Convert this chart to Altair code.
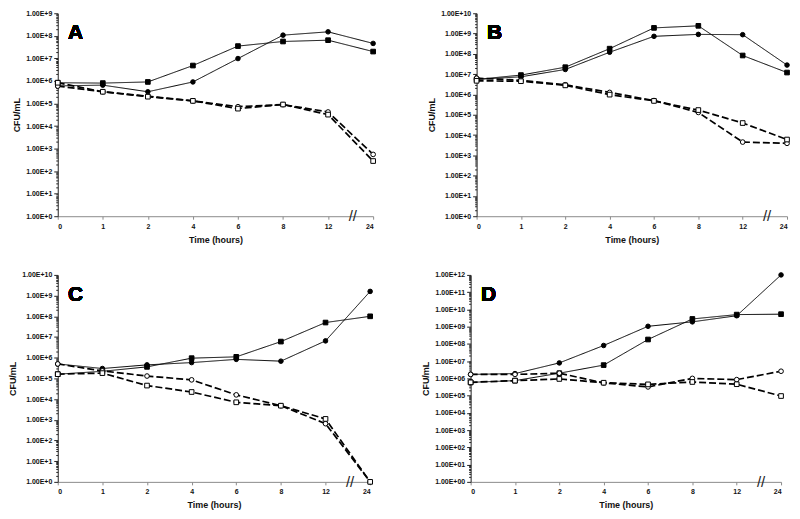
import altair as alt
import pandas as pd

hours = ["0", "1", "2", "4", "6", "8", "12", "24"]
series_names = ["filled_square", "filled_circle", "open_circle", "open_square"]
panel_letters = ["A", "B", "C", "D"]
y_max_exp = [9, 10, 10, 12]
two_digit_exponent = [False, False, False, True]

# Panel A
a_filled_square = [8.3e5, 8.0e5, 9.0e5, 4.8e6, 3.5e7, 5.6e7, 6.4e7, 2.0e7]
a_filled_circle = [6.0e5, 6.5e5, 3.3e5, 9.0e5, 9.8e6, 1.07e8, 1.5e8, 4.6e7]
a_open_circle = [5.9e5, 3.3e5, 2.1e5, 1.3e5, 7.2e4, 8.9e4, 4.2e4, 5.5e2]
a_open_square = [8.3e5, 3.3e5, 2.0e5, 1.3e5, 5.9e4, 9.0e4, 3.2e4, 2.8e2]

# Panel B
b_filled_square = [5.5e6, 9.0e6, 2.2e7, 1.8e8, 1.9e9, 2.4e9, 8.3e7, 1.2e7]
b_filled_circle = [5.5e6, 7.4e6, 1.7e7, 1.2e8, 7.3e8, 9.1e8, 8.8e8, 2.8e7]
b_open_circle = [6.3e6, 5.0e6, 3.0e6, 1.26e6, 5.0e5, 1.3e5, 4.5e3, 3.9e3]
b_open_square = [4.7e6, 4.5e6, 2.8e6, 9.8e5, 4.8e5, 1.7e5, 3.9e4, 6.0e3]

# Panel C
c_filled_square = [1.6e5, 2.2e5, 3.6e5, 9.5e5, 1.1e6, 6.0e6, 5.0e7, 1.0e8]
c_filled_circle = [5.0e5, 3.0e5, 4.5e5, 5.8e5, 8.3e5, 6.8e5, 6.5e6, 1.6e9]
c_open_circle = [5.0e5, 2.3e5, 1.3e5, 8.5e4, 1.6e4, 4.8e3, 6.5e2, 1.0]
c_open_square = [1.6e5, 1.8e5, 4.5e4, 2.2e4, 7.0e3, 4.8e3, 1.1e3, 1.0]

# Panel D
d_filled_square = [5.9e5, 7.4e5, 2.0e6, 5.9e6, 1.8e8, 2.8e9, 5.0e9, 5.3e9]
d_filled_circle = [1.7e6, 1.9e6, 7.9e6, 8.1e7, 1.05e9, 1.9e9, 4.3e9, 1.0e12]
d_open_circle = [1.7e6, 1.7e6, 2.0e6, 5.5e5, 3.2e5, 1.0e6, 8.5e5, 2.6e6]
d_open_square = [5.9e5, 7.4e5, 9.3e5, 5.6e5, 4.5e5, 6.2e5, 4.6e5, 9.5e4]

panel_series = [
    [a_filled_square, a_filled_circle, a_open_circle, a_open_square],
    [b_filled_square, b_filled_circle, b_open_circle, b_open_square],
    [c_filled_square, c_filled_circle, c_open_circle, c_open_square],
    [d_filled_square, d_filled_circle, d_open_circle, d_open_square],
]
panel_sizes = [(317, 204), (312, 204), (314, 208), (312, 208)]

FONT = "Liberation Sans"
hours_csv = ",".join(hours)

styles = {
    "filled_square": dict(dash=[1, 0], sw=1.0, shape="square", filled=True, size=22),
    "filled_circle": dict(dash=[1, 0], sw=1.0, shape="circle", filled=True, size=21),
    "open_circle": dict(dash=[7, 3], sw=1.7, shape="circle", filled=False, size=22),
    "open_square": dict(dash=[7, 3], sw=1.7, shape="square", filled=False, size=22),
}


def make_panel(i):
    letter = panel_letters[i]
    top = y_max_exp[i]
    w, h = panel_sizes[i]
    rows = []
    for name, vals in zip(series_names, panel_series[i]):
        for k, (hr, v) in enumerate(zip(hours, vals)):
            rows.append({"idx": k, "hour": hr, "series": name, "value": v})
    df = pd.DataFrame(rows)

    yvals = [m * 10 ** k for k in range(0, top) for m in range(1, 10)] + [10 ** top]
    exp_expr = "round(log(datum.value)/LN10)"
    major_test = f"abs(log(datum.value)/LN10 - {exp_expr}) < 0.001"
    if two_digit_exponent[i]:
        exp_txt = f"({exp_expr} < 10 ? '0' : '') + {exp_expr}"
    else:
        exp_txt = exp_expr
    x_enc = alt.X(
        "idx:Q",
        scale=alt.Scale(domain=[0, len(hours) - 1], nice=False, zero=False),
        axis=alt.Axis(
            values=list(range(len(hours))),
            labelExpr=f"split('{hours_csv}', ',')[datum.value]",
            title="Time (hours)",
            grid=False,
            domainColor="#8a8a8a",
            tickColor="#8a8a8a",
            tickSize=3,
            labelPadding=3,
            titlePadding=6,
        ),
    )
    y_enc = alt.Y(
        "value:Q",
        scale=alt.Scale(type="log", domain=[1, 10 ** top], nice=False),
        axis=alt.Axis(
            values=yvals,
            labelExpr=f"({major_test}) ? '1.00E+' + {exp_txt} : ''",
            labelOverlap=False,
            title="CFU/mL",
            grid=False,
            domainColor="#222222",
            tickColor="#222222",
            tickSize={"condition": {"test": major_test, "value": 4}, "value": 2},
            labelPadding=2,
            titlePadding=4,
        ),
    )

    layers = []
    for name in series_names:
        st = styles[name]
        layers.append(
            alt.Chart(df)
            .transform_filter(alt.datum.series == name)
            .mark_line(color="black", strokeDash=st["dash"], strokeWidth=st["sw"])
            .encode(x=x_enc, y=y_enc, order="idx:Q")
        )
    for name in series_names:
        st = styles[name]
        layers.append(
            alt.Chart(df)
            .transform_filter(alt.datum.series == name)
            .mark_point(
                shape=st["shape"],
                filled=True,
                fill="black" if st["filled"] else "white",
                stroke="black",
                strokeWidth=1,
                size=st["size"],
                opacity=1,
            )
            .encode(x=x_enc, y=y_enc)
        )
    # axis break marker between the last two time points, on the x axis
    brk = (
        alt.Chart(df)
        .transform_aggregate(maxidx="max(idx)", minval="min(value)")
        .transform_calculate(idx="datum.maxidx - 0.45", value="1")
        .mark_text(text="//", fontSize=15, font=FONT, color="#222222", baseline="middle", align="center")
        .encode(x=x_enc, y=y_enc)
    )
    layers.append(brk)
    layers.append(
        alt.Chart(df)
        .mark_text(text=letter, fontSize=21, fontWeight="bold", font=FONT, color="black", align="center", baseline="middle")
        .encode(x=alt.value(18), y=alt.value(20))
    )
    return alt.layer(*layers).properties(width=w, height=h)


top_row = alt.hconcat(make_panel(0), make_panel(1), spacing=49)
bottom_row = alt.hconcat(make_panel(2), make_panel(3), spacing=46)
chart = (
    alt.vconcat(top_row, bottom_row, spacing=26)
    .configure_view(stroke=None)
    .configure_axis(
        labelFont=FONT,
        labelFontSize=7,
        labelFontWeight="bold",
        labelColor="#111111",
        titleFont=FONT,
        titleFontSize=9,
        titleFontWeight="bold",
        titleColor="#111111",
    )
    .properties(background="white", padding=0)
)

chart.save("out.html", embed_options={"renderer": "svg", "actions": False})
